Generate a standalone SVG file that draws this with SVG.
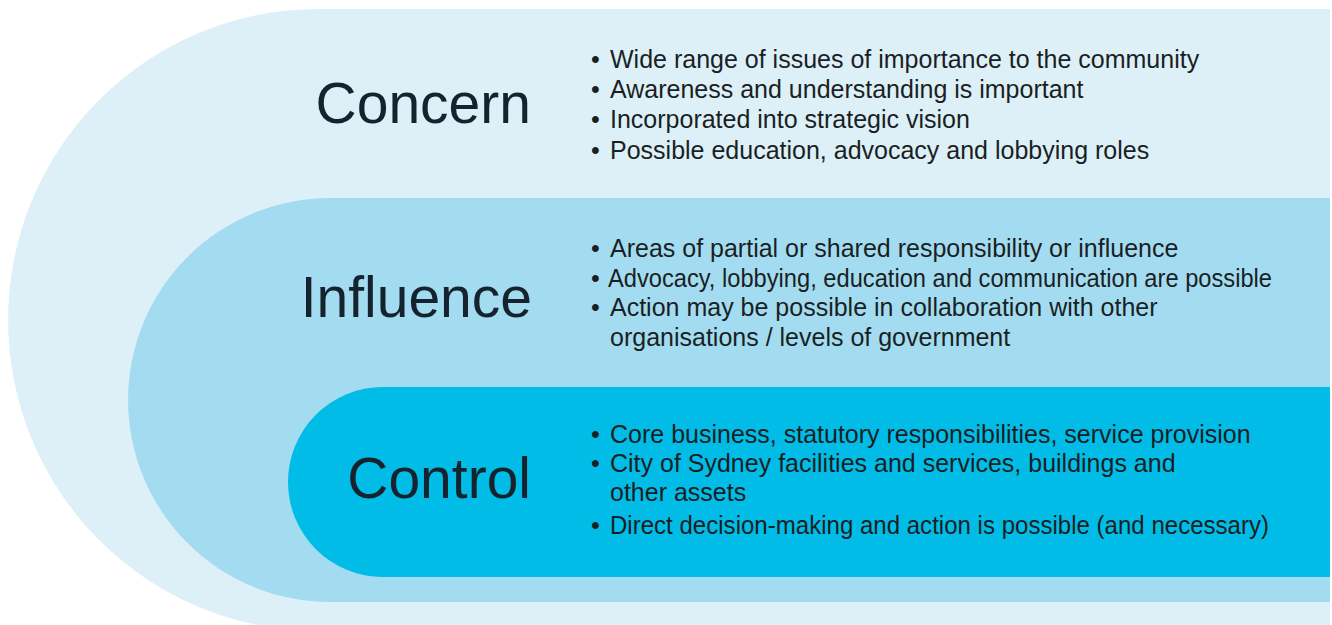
<svg xmlns="http://www.w3.org/2000/svg" width="1332" height="625" viewBox="0 0 1332 625">
<style>
.title{font-family:"Liberation Sans",Arial,sans-serif;font-size:57px;fill:#14232e;text-anchor:end}
.item{font-family:"Liberation Sans",Arial,sans-serif;font-size:25px;fill:#1a1f24}
</style>
<rect width="1332" height="625" fill="#ffffff"/>
<g id="concern">
<path d="M318,9 H1330 V631 H318 A310,311 0 0 1 318,9 Z" fill="#ddf0f8"/>
<text class="title" x="531" y="123">Concern</text>
<g class="item">
<text x="591" y="68">•</text><text x="610" y="68">Wide range of issues of importance to the community</text>
<text x="591" y="98">•</text><text x="610" y="98">Awareness and understanding is important</text>
<text x="591" y="128">•</text><text x="610" y="128">Incorporated into strategic vision</text>
<text x="591" y="159">•</text><text x="610" y="159">Possible education, advocacy and lobbying roles</text>
</g>
</g>
<g id="influence">
<path d="M330,198 H1330 V602 H330 A202,202 0 0 1 330,198 Z" fill="#a3dcf0"/>
<text class="title" x="532" y="317">Influence</text>
<g class="item">
<text x="591" y="257">•</text><text x="610" y="257">Areas of partial or shared responsibility or influence</text>
<text x="591" y="287">•</text><text x="608" y="287" textLength="664" lengthAdjust="spacingAndGlyphs">Advocacy, lobbying, education and communication are possible</text>
<text x="591" y="316">•</text><text x="610" y="316">Action may be possible in collaboration with other</text>
<text x="610" y="346">organisations / levels of government</text>
</g>
</g>
<g id="control">
<path d="M383,387 H1330 V577 H383 A95,95 0 0 1 383,387 Z" fill="#00bce6"/>
<text class="title" x="531" y="498">Control</text>
<g class="item">
<text x="591" y="443">•</text><text x="610" y="443">Core business, statutory responsibilities, service provision</text>
<text x="591" y="472">•</text><text x="610" y="472">City of Sydney facilities and services, buildings and</text>
<text x="610" y="501">other assets</text>
<text x="591" y="534">•</text><text x="610" y="534" textLength="659" lengthAdjust="spacingAndGlyphs">Direct decision-making and action is possible (and necessary)</text>
</g>
</g>
<g id="connectors"/>
</svg>
